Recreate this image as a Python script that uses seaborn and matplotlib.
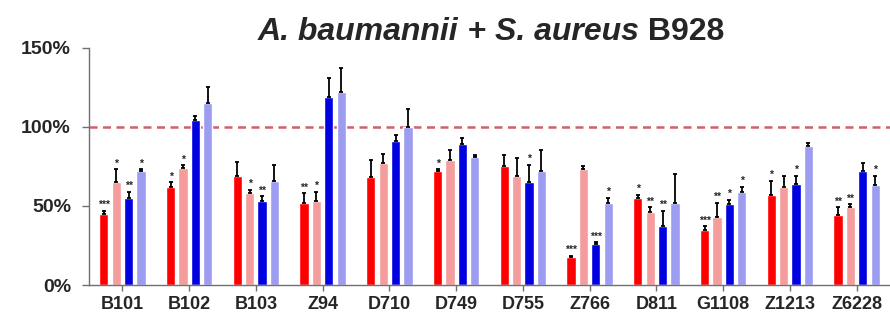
import numpy as np
import pandas as pd
import seaborn as sns
import matplotlib.pyplot as plt

strains = ['B101', 'B102', 'B103', 'Z94', 'D710', 'D749', 'D755', 'Z766',
           'D811', 'G1108', 'Z1213', 'Z6228']
series = ['S1', 'S2', 'S3', 'S4']

s1 = [45, 62, 69, 52, 68, 72, 75, 17.5, 55, 35, 57, 44]
s1_err = [2, 3, 9, 6, 11, 1, 7, 1, 2, 2, 9, 5]
s2 = [65, 74, 58, 53, 77, 79, 69, 73, 46, 43, 62, 49]
s2_err = [8, 1.5, 2, 6, 5.5, 6, 11, 2, 3, 9, 7, 2]
s3 = [55, 104, 53, 119, 91, 89, 65, 26, 37, 51, 64, 72]
s3_err = [4, 2.5, 3, 12, 4, 4, 11, 1, 10, 3, 5, 5]
s4 = [72, 115, 66, 122, 100, 81, 72, 52, 52, 59, 88, 63]
s4_err = [1, 10, 9.5, 15, 11, 1, 13, 3, 18, 3, 2, 6]

s1_sig = ['***', '*', '', '**', '', '*', '', '***', '*', '***', '*', '**']
s2_sig = ['*', '*', '*', '*', '', '', '', '', '**', '**', '', '**']
s3_sig = ['**', '', '**', '', '', '', '*', '***', '**', '*', '*', '']
s4_sig = ['*', '', '', '', '', '', '', '*', '', '*', '', '*']

colors = ['#ff0000', '#f59c9c', '#0000e0', '#9c9cf0']

values = [s1, s2, s3, s4]
errors = [s1_err, s2_err, s3_err, s4_err]
sigs = [s1_sig, s2_sig, s3_sig, s4_sig]

df = pd.DataFrame({
    'strain': np.tile(strains, len(series)),
    'series': np.repeat(series, len(strains)),
    'value': np.concatenate(values),
})

sns.set_style('white')
plt.rcParams['font.family'] = ['Liberation Sans', 'DejaVu Sans']

fig = plt.figure(figsize=(8.9, 3.15), dpi=100)
ax = fig.add_axes([0.1, 0.0952, 0.9, 0.754])

sns.barplot(data=df, x='strain', y='value', hue='series', palette=colors,
            width=0.74, gap=0.25, errorbar=None, saturation=1, ax=ax,
            legend=False)

# error bars (upper only) and significance stars
for cont, val, err, sig in zip(ax.containers, values, errors, sigs):
    xs = [b.get_x() + b.get_width() / 2 for b in cont]
    ax.errorbar(xs, val, yerr=[np.zeros(len(err)), err], fmt='none',
                ecolor='black', elinewidth=1.3, capsize=1.5, capthick=1.3,
                zorder=3)
    for x, v, e, s in zip(xs, val, err, sig):
        if s:
            ax.annotate(s, (x, v + e), xytext=(0, 0.5), textcoords='offset points',
                        ha='center', va='bottom', fontsize=7.5, fontweight='bold')

ax.axhline(100, color='#d0606a', linestyle=(0, (3.2, 2.2)), linewidth=1.8, zorder=0)

ax.set_xlim(-0.5, 11.5)
ax.set_ylim(0, 150)
ax.set_yticks([0, 50, 100, 150])
ax.set_yticklabels(['0%', '50%', '100%', '150%'])
ax.set_xlabel('')
ax.set_ylabel('')
for lab in ax.get_xticklabels() + ax.get_yticklabels():
    lab.set_fontweight('bold')
ax.tick_params(axis='y', labelsize=14, length=5, width=1, color='#707070',
               direction='out', left=True, pad=8)
ax.tick_params(axis='x', labelsize=13, length=4, width=1, color='#707070',
               direction='out', bottom=True, pad=4)
sns.despine(ax=ax)
for sp in ['left', 'bottom']:
    ax.spines[sp].set_color('#707070')
    ax.spines[sp].set_linewidth(1)

# title with italic species names
t1 = fig.text(0.29, 0.9, 'A. baumannii', fontsize=23, fontweight='bold',
              fontstyle='italic', va='center', ha='left')
t2 = ax.annotate(' + ', xy=(1, 0), xycoords=t1, fontsize=23,
                 fontweight='bold', va='bottom', ha='left')
t3 = ax.annotate('S. aureus', xy=(1, 0), xycoords=t2, fontsize=23,
                 fontweight='bold', fontstyle='italic', va='bottom', ha='left')
ax.annotate(' B928', xy=(1, 0), xycoords=t3, fontsize=23,
            fontweight='bold', va='bottom', ha='left')

fig.savefig('out.png', dpi=100)
